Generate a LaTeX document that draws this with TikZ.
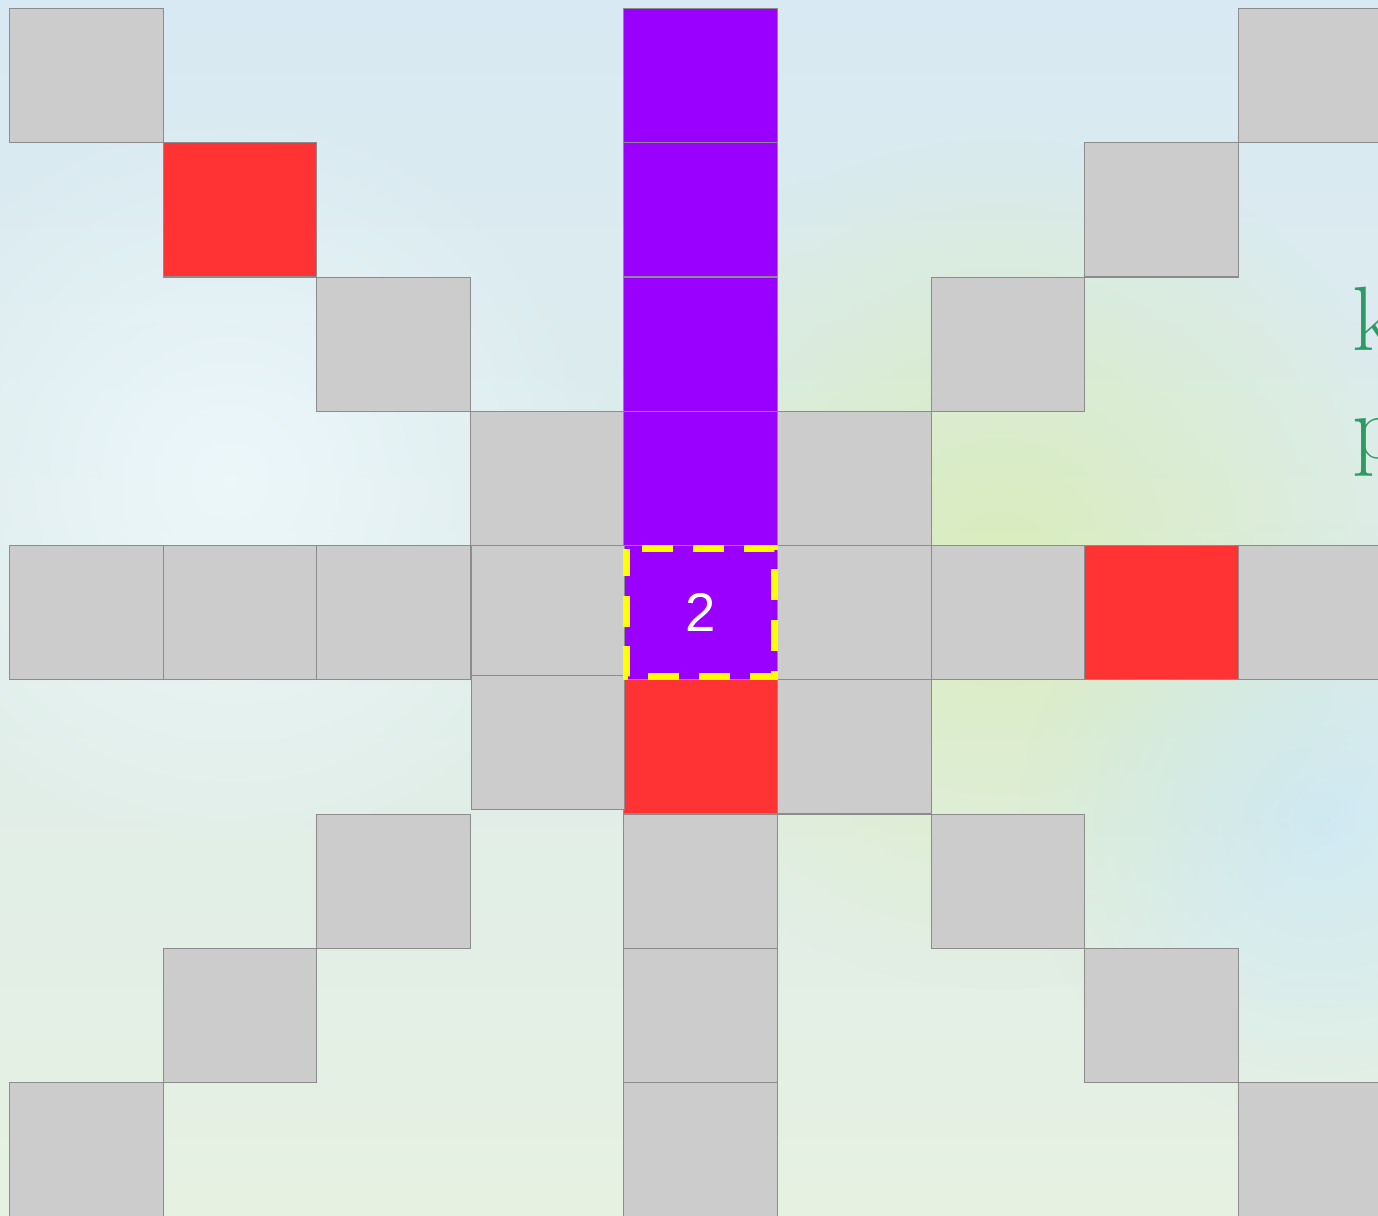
\documentclass[tikz,border=0pt]{standalone}
\usepackage{fontspec}
\usepackage{tikz}
\usetikzlibrary{calc,fadings}
\newfontfamily\digitfont{Liberation Sans}
\definecolor{bgtop}{HTML}{D8E9F3}
\definecolor{bgbot}{HTML}{E6F1E2}
\definecolor{cellgray}{HTML}{CCCCCC}
\definecolor{cellline}{HTML}{8C8C8C}
\definecolor{cellred}{HTML}{FF3333}
\definecolor{cellpurple}{HTML}{9900FF}
\definecolor{hiyellow}{HTML}{FFFF00}
\definecolor{wordgreen}{HTML}{2E9A66}
\tikzfading[name=softblob,inner color=transparent!0,outer color=transparent!100]

\begin{document}
\begin{tikzpicture}[x=0.02cm,y=-0.02cm,
  cell/.style={draw=cellline,line width=0.6pt,fill=#1,minimum width=3.072cm,minimum height=2.685cm,inner sep=0pt,anchor=north west},
  hilite/.style={draw=hiyellow,line width=7pt*0.567,dash pattern=on 0.62cm off 0.4cm,dash phase=0.08cm},
  word/.style={text=wordgreen,font=\fontsize{52}{60}\selectfont,anchor=base west,inner sep=0pt}]
\useasboundingbox (0,0) rectangle (1378,1215);
\clip (0,0) rectangle (1378,1215);
\shade[top color=bgtop,bottom color=bgbot] (0,0) rectangle (1378,1215);
\fill[white!70!cyan!20,opacity=0.8,path fading=softblob] (230,480) circle (380);
\fill[yellow!60!green!40,opacity=0.6,path fading=softblob] (1000,560) circle (430);
\fill[blue!40!cyan!25,opacity=0.5,path fading=softblob] (1320,820) circle (300);
\foreach \c/\r/\k in {0/0/cellgray,4/0/cellpurple,8/0/cellgray,
  1/1/cellred,4/1/cellpurple,7/1/cellgray,
  2/2/cellgray,4/2/cellpurple,6/2/cellgray,
  3/3/cellgray,4/3/cellpurple,5/3/cellgray,
  0/4/cellgray,1/4/cellgray,2/4/cellgray,4/4/cellpurple,5/4/cellgray,6/4/cellgray,7/4/cellred,8/4/cellgray,
  4/5/cellred,5/5/cellgray,
  2/6/cellgray,4/6/cellgray,6/6/cellgray,
  1/7/cellgray,4/7/cellgray,7/7/cellgray,
  0/8/cellgray,4/8/cellgray,8/8/cellgray}
  \node[cell=\k] (c\c\r) at ({9+153.6*\c},{8+134.25*\r}) {};
\node[cell=cellgray,minimum height=2.6cm] (c34) at (470.8,545) {};
\node[cell=cellgray] (c35) at (470.8,675) {};
\draw[hilite] ($(c44.north west)+(3.5,3.5)$) rectangle ($(c44.south east)+(-3.5,-3.5)$);
\node[text=white,font=\digitfont\fontsize{31}{31}\selectfont] (num) at (c44.center) {2};
\node[word] (wk) at (1352,350) {k};
\node[word] (wp) at (1352,458) {p};
\end{tikzpicture}
\end{document}
